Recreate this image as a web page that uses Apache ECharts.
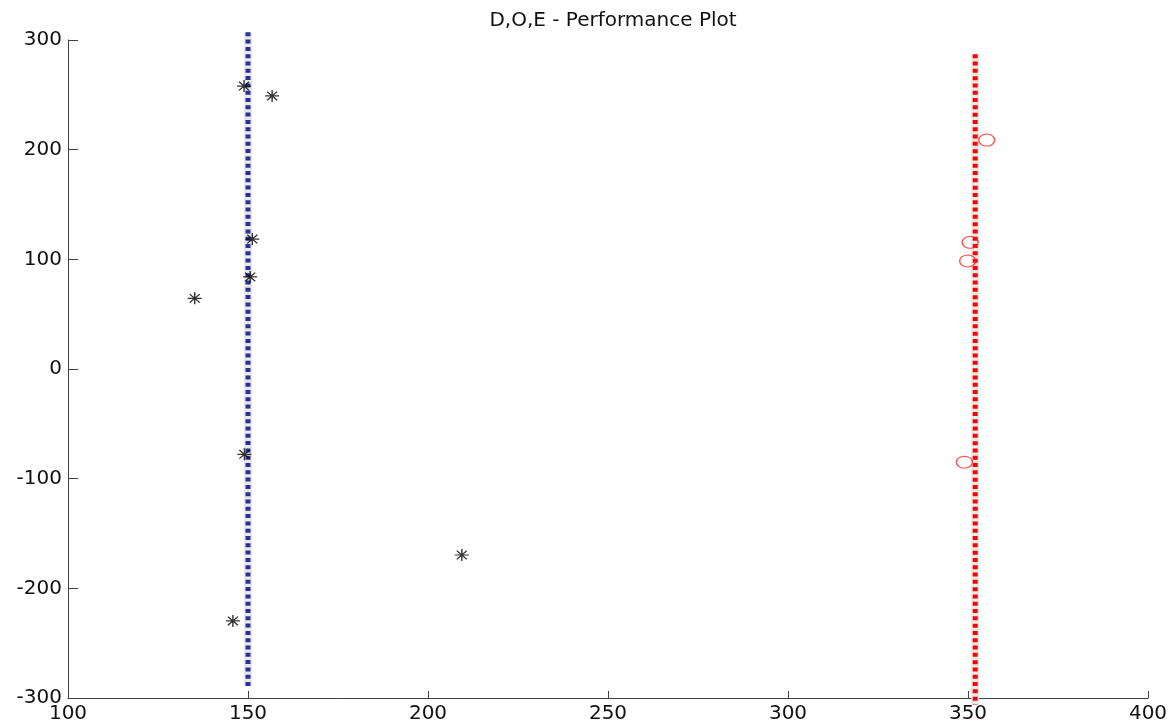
<!DOCTYPE html>
<html>
<head>
<meta charset="utf-8">
<script src="https://cdn.jsdelivr.net/npm/echarts@6/dist/echarts.min.js"></script>
<style>
  html, body { margin: 0; padding: 0; background: #fff; }
  #chart { width: 1175px; height: 727px; }
</style>
</head>
<body>
<div id="chart"></div>
<script>
// Design points (asterisks) and their reference line
const starX = [148.9, 156.7, 151.2, 150.6, 135.2, 149.0, 209.4, 145.8];
const starY = [258, 249, 118.5, 84, 64.4, -77.8, -169.6, -229.7];
const blueLineX = [150, 150];
const blueLineY = [307, -289];

// Optimum points (circles) and their reference line
const circleX = [355.2, 350.6, 349.9, 349.0];
const circleY = [208.8, 115.5, 98.5, -85];
const redLineX = [352, 352];
const redLineY = [287, -306];

// Axis ranges and tick spacing
const xMin = 100, xMax = 400, xStep = 50;
const yMin = -300, yMax = 300, yStep = 100;

const pairs = (xs, ys) => xs.map((x, i) => [x, ys[i]]);

const fontFamily = 'DejaVu Sans';
const axisColor = '#404040';
const STAR = 'path://M0,-1L0,1M-1,0L1,0M-0.72,-0.72L0.72,0.72M-0.72,0.72L0.72,-0.72';

const chart = echarts.init(document.getElementById('chart'), null, { renderer: 'canvas' });

// Thick dotted vertical line with a faint soft edge
const dottedLine = (xs, ys, color) => ([
  {
    type: 'line', data: pairs(xs, ys), clip: false, symbol: 'none', silent: true,
    lineStyle: { color: '#e8e8e8', width: 8, type: 'solid' }, z: 1
  },
  {
    type: 'line', data: pairs(xs, ys), clip: false, symbol: 'none', silent: true,
    lineStyle: { color: color, width: 5, type: [4, 3.3], cap: 'butt' }, z: 2
  }
]);

chart.setOption({
  animation: false,
  backgroundColor: '#fff',
  title: {
    text: 'D,O,E - Performance Plot',
    left: 608, top: 6, textAlign: 'center',
    textStyle: { fontFamily, fontSize: 20, fontWeight: 'normal', color: '#111' }
  },
  grid: { left: 68, right: 27, top: 40, bottom: 29, containLabel: false },
  xAxis: {
    type: 'value', min: xMin, max: xMax, interval: xStep,
    axisLine: { show: true, onZero: false, lineStyle: { color: axisColor, width: 1 } },
    axisTick: { show: true, inside: true, length: 7, lineStyle: { color: axisColor } },
    axisLabel: { fontFamily, fontSize: 20, color: '#111', margin: 6 },
    splitLine: { show: false }
  },
  yAxis: {
    type: 'value', min: yMin, max: yMax, interval: yStep,
    axisLine: { show: true, onZero: false, lineStyle: { color: axisColor, width: 1 } },
    axisTick: { show: true, inside: true, length: 10, lineStyle: { color: axisColor } },
    axisLabel: { fontFamily, fontSize: 20, color: '#111', margin: 6 },
    splitLine: { show: false }
  },
  series: [
    ...dottedLine(blueLineX, blueLineY, '#2d2d9c'),
    {
      type: 'scatter', data: pairs(starX, starY), symbol: STAR, symbolSize: [14, 12],
      itemStyle: { color: 'transparent', borderColor: '#000', borderWidth: 1.3 }, z: 3
    },
    {
      type: 'scatter', data: pairs(circleX, circleY), symbol: 'circle', symbolSize: [16, 12],
      itemStyle: { color: 'transparent', borderColor: '#ff2020', borderWidth: 1.2 }, z: 3
    },
    ...dottedLine(redLineX, redLineY, '#ff0000')
  ]
});
</script>
</body>
</html>
